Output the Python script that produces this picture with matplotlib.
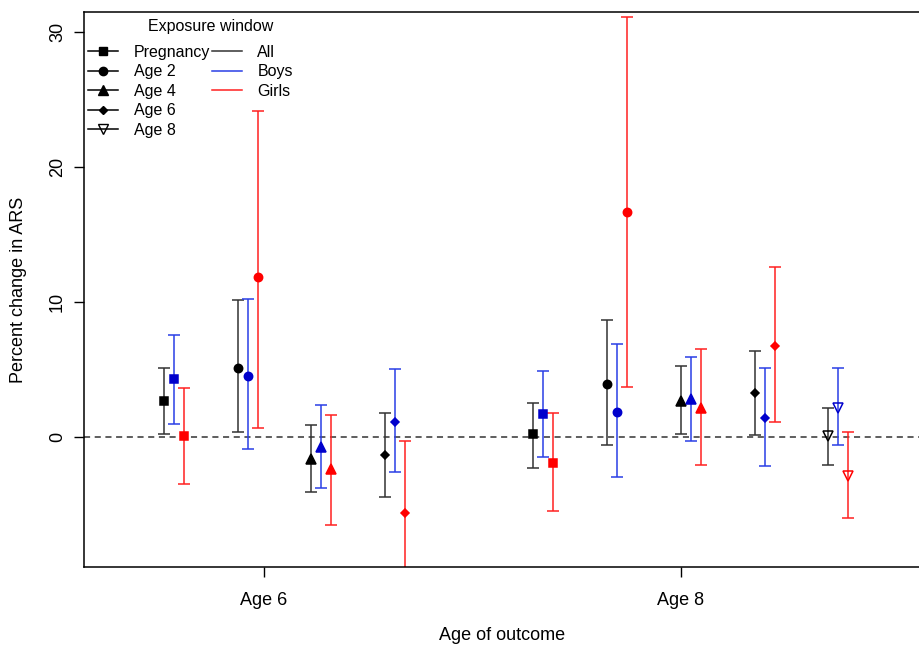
import matplotlib
matplotlib.use("Agg")
import matplotlib.pyplot as plt
from matplotlib.lines import Line2D

plt.rcParams["font.family"] = ["Liberation Sans", "DejaVu Sans"]

# exposure window of each estimate, first 4 -> outcome at age 6, last 5 -> outcome at age 8
windows = ["Pregnancy", "Age 2", "Age 4", "Age 6",
           "Pregnancy", "Age 2", "Age 4", "Age 6", "Age 8"]
outcome = ["Age 6"] * 4 + ["Age 8"] * 5
outcome_labels = ["Age 6", "Age 8"]

all_est = [2.70, 5.17, -1.62, -1.32, 0.23, 3.94, 2.70, 3.25, 0.09]
all_lo = [0.28, 0.43, -4.06, -4.38, -2.28, -0.60, 0.28, 0.14, -2.04]
all_hi = [5.15, 10.19, 0.88, 1.79, 2.53, 8.68, 5.25, 6.36, 2.14]

boys_est = [4.33, 4.53, -0.68, 1.17, 1.72, 1.87, 2.85, 1.47, 2.19]
boys_lo = [1.02, -0.85, -3.77, -2.58, -1.44, -2.95, -0.26, -2.11, -0.60]
boys_hi = [7.57, 10.26, 2.38, 5.07, 4.95, 6.90, 5.96, 5.15, 5.15]

girls_est = [0.11, 11.90, -2.33, -5.57, -1.89, 16.70, 2.21, 6.80, -2.85]
girls_lo = [-3.44, 0.68, -6.48, -12.0, -5.49, 3.74, -2.04, 1.17, -5.94]
girls_hi = [3.67, 24.20, 1.62, -0.26, 1.77, 31.10, 6.58, 12.65, 0.41]

# marker per exposure window
markers = {
    "Pregnancy": dict(marker="s", ms=6, mfc=None),
    "Age 2": dict(marker="o", ms=6, mfc=None),
    "Age 4": dict(marker="^", ms=7, mfc=None),
    "Age 6": dict(marker="D", ms=4, mfc=None),
    "Age 8": dict(marker="v", ms=7.5, mfc="none"),
}

# name, line colour, marker colour
series = [
    ("All", "#333333", "black", all_est, all_lo, all_hi),
    ("Boys", "#2a3ee6", "#0000cc", boys_est, boys_lo, boys_hi),
    ("Girls", "#ff2020", "#ff0000", girls_est, girls_lo, girls_hi),
]

# x layout: one slot per window, one empty slot between the two outcome groups
xpos = []
for i, o in enumerate(outcome):
    xpos.append(i + 1 + (1 if o == "Age 8" else 0))
offset = 0.135

fig = plt.figure(figsize=(9.2, 6.46), dpi=100)
ax = fig.add_axes([0.0913, 0.1223, 0.9087, 0.8591])

ax.axhline(0, color="#333333", lw=1.1, ls=(0, (4, 3)), zorder=1)

for k, (name, lcol, mcol, est, lo, hi) in enumerate(series):
    for i in range(len(est)):
        x = xpos[i] + k * offset
        m = markers[windows[i]]
        ax.errorbar(x, est[i], yerr=[[est[i] - lo[i]], [hi[i] - est[i]]],
                    fmt="none", ecolor=lcol, elinewidth=1.1, capsize=4.5,
                    capthick=1.1, zorder=2)
        ax.plot(x, est[i], linestyle="none", marker=m["marker"], ms=m["ms"],
                color=mcol, mfc=m["mfc"] if m["mfc"] else mcol, mew=1.1, zorder=3)

ax.set_ylim(-9.6, 31.5)
ax.set_xlim(-0.08, 11.24)
ax.set_yticks([0, 10, 20, 30])
ax.set_yticklabels(["0", "10", "20", "30"], rotation=90, va="center")
ax.set_xticks([2.355, 8.0])
ax.set_xticklabels(outcome_labels)
ax.tick_params(direction="out", length=7, width=1, labelsize=13, pad=6)
ax.tick_params(axis="x", pad=11)
ax.spines["right"].set_visible(False)
for s in ["left", "top", "bottom"]:
    ax.spines[s].set_linewidth(1.1)

ax.set_ylabel("Percent change in ARS", fontsize=13, labelpad=16)
ax.set_xlabel("Age of outcome", fontsize=13, labelpad=13)

# legend: windows (marker + line) in col 1, sexes (lines) in col 2
handles = []
for w in ["Pregnancy", "Age 2", "Age 4", "Age 6", "Age 8"]:
    m = markers[w]
    handles.append(Line2D([], [], color="black", lw=1.1, marker=m["marker"],
                          ms=m["ms"], mfc=m["mfc"] if m["mfc"] else "black",
                          label=w))
for name, lcol, _, _, _, _ in series:
    handles.append(Line2D([], [], color=lcol, lw=1.1, label=name))
handles.append(Line2D([], [], alpha=0, label=" "))
handles.append(Line2D([], [], alpha=0, label=" "))

ax.legend(handles=handles, ncol=2, loc="upper left",
          bbox_to_anchor=(88 / 920, 1 - 45 / 646), bbox_transform=fig.transFigure,
          frameon=False, fontsize=11.5,
          handlelength=1.9, handletextpad=0.95, columnspacing=0.12,
          labelspacing=0.28, borderaxespad=0.0, borderpad=0.0)
fig.text(211 / 920, 1 - 27 / 646, "Exposure window", ha="center", va="center",
         fontsize=11.5)

fig.savefig("out.png", dpi=100)
